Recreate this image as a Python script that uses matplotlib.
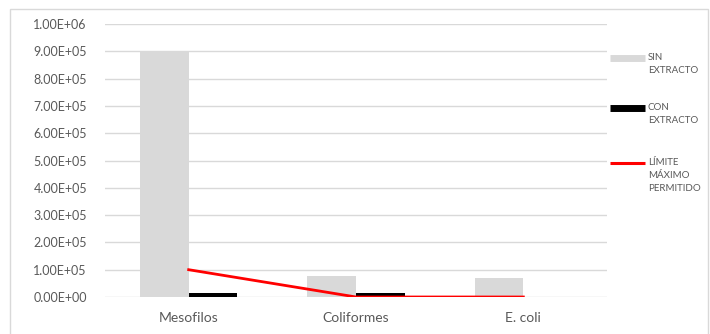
#! -*- coding: utf-8 -*-

#---------------------------------
# モジュールのインポート
#---------------------------------
import numpy as np
import matplotlib
matplotlib.use('Agg')
import matplotlib.pyplot as plt
from matplotlib.lines import Line2D
from matplotlib.patches import Rectangle
from matplotlib.ticker import FuncFormatter

#---------------------------------
# データ
#---------------------------------
categories = ['Mesofilos', 'Coliformes', 'E. coli']
sin_extracto = [9.0e5, 7.7e4, 7.0e4]
con_extracto = [1.5e4, 1.5e4, 0.0]
limite_maximo = [1.0e5, 0.0, 0.0]
legend_labels = ['SIN\nEXTRACTO', 'CON\nEXTRACTO', 'LÍMITE\nMÁXIMO\nPERMITIDO']
y_ticks = [0, 1e5, 2e5, 3e5, 4e5, 5e5, 6e5, 7e5, 8e5, 9e5, 1e6]

#---------------------------------
# 定数定義
#---------------------------------
COLOR_SIN = '#d9d9d9'
COLOR_CON = '#000000'
COLOR_LIM = '#ff0000'
COLOR_TEXT = '#595959'
COLOR_GRID = '#d9d9d9'
FONT = ['Lato', 'DejaVu Sans']


def sci_fmt(v, pos):
    s = '{:.2E}'.format(v)
    return s


def main():
    plt.rcParams['font.family'] = FONT

    fig = plt.figure(figsize=(7.1, 3.34), dpi=100)
    ax = fig.add_axes([105 / 710, 37 / 334, 502 / 710, 273 / 334])

    # --- 外枠 ---
    fig.patches.append(Rectangle((10 / 710, -0.05), 698 / 710, (334 - 9) / 334 + 0.05,
                                 transform=fig.transFigure, fill=False,
                                 edgecolor='#d9d9d9', linewidth=1.0))

    # --- 棒グラフ ---
    x = np.arange(len(categories))
    bw = 0.29
    ax.bar(x - bw / 2, sin_extracto, width=bw, color=COLOR_SIN, zorder=2)
    ax.bar(x + bw / 2, con_extracto, width=bw, color=COLOR_CON, zorder=2)

    # --- 折れ線 ---
    ax.plot(x, limite_maximo, color=COLOR_LIM, linewidth=2.0, zorder=3)

    # --- 軸設定 ---
    ax.set_xlim(-0.5, len(categories) - 0.5)
    ax.set_ylim(0, 1e6)
    ax.set_yticks(y_ticks)
    ax.yaxis.set_major_formatter(FuncFormatter(sci_fmt))
    ax.set_xticks(x)
    ax.set_xticklabels(categories)
    ax.grid(axis='y', color=COLOR_GRID, linewidth=1.0, zorder=0)
    ax.set_axisbelow(True)
    for sp in ax.spines.values():
        sp.set_visible(False)
    ax.tick_params(axis='both', length=0, colors=COLOR_TEXT)
    ax.tick_params(axis='y', pad=13, labelsize=9)
    ax.tick_params(axis='x', pad=11, labelsize=10)

    # --- 凡例 (手動配置) ---
    legend_y = [58, 108, 163]
    handles = [(COLOR_SIN, 5), (COLOR_CON, 5), (COLOR_LIM, 2.2)]
    for (col, lw), y, txt in zip(handles, legend_y, legend_labels):
        yf = 1 - y / 334
        fig.lines.append(Line2D([610 / 710, 645 / 710], [yf, yf], transform=fig.transFigure,
                                color=col, linewidth=lw, solid_capstyle='butt'))
        fig.text(648 / 710, yf + 5 / 334, txt, fontsize=7, color=COLOR_TEXT,
                 va='top', ha='left', linespacing=1.55)

    plt.savefig('out.png', dpi=100)
    plt.close()


if __name__ == '__main__':
    main()
